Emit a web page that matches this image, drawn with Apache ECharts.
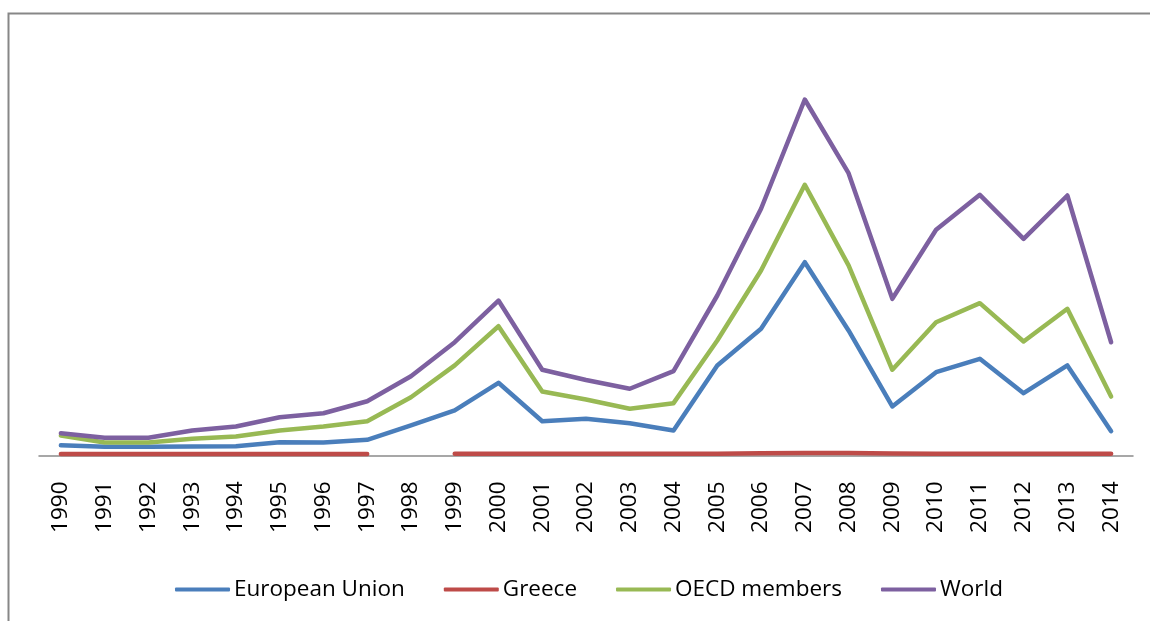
<!DOCTYPE html>
<html>
<head>
<meta charset="utf-8">
<script src="https://cdn.jsdelivr.net/npm/echarts@6/dist/echarts.min.js"></script>
<style>
  html, body { margin: 0; padding: 0; background: #ffffff; }
  #chart { width: 1150px; height: 621px; }
</style>
</head>
<body>
<div id="chart"></div>
<script>
// Foreign direct investment, 1990–2014 (billions of US$)
const years = ['1990','1991','1992','1993','1994','1995','1996','1997','1998','1999',
               '2000','2001','2002','2003','2004','2005','2006','2007','2008','2009',
               '2010','2011','2012','2013','2014'];

const europeanUnion = [90, 76, 76, 79, 81, 116, 114, 137, 263, 394,
                       636, 300, 322, 283, 219, 788, 1109, 1691, 1094, 429,
                       729, 846, 545, 788, 213];

// 1998 has no reported value
const greece = [14, 14, 14, 14, 14, 14, 14, 14, null, 15,
                15, 16, 15, 15, 16, 15, 20, 22, 21, 17,
                15, 15, 16, 16, 15];

const oecdMembers = [175, 114, 114, 146, 166, 219, 254, 300, 510, 788,
                     1131, 560, 490, 409, 458, 1006, 1619, 2369, 1663, 750,
                     1166, 1333, 998, 1284, 516];

const world = [195, 155, 155, 219, 254, 335, 370, 475, 694, 991,
               1356, 750, 661, 584, 738, 1400, 2159, 3115, 2470, 1371,
               1975, 2281, 1896, 2275, 991];

const seriesNames = ['European Union', 'Greece', 'OECD members', 'World'];
const seriesColors = ['#4A7EBB', '#BE4B48', '#98B954', '#7D60A0'];
const seriesData = [europeanUnion, greece, oecdMembers, world];

const chart = echarts.init(document.getElementById('chart'), null, { renderer: 'canvas' });

const FONT = '"Open Sans", "Liberation Sans", sans-serif';

chart.setOption({
  animation: false,
  backgroundColor: '#ffffff',
  graphic: [{
    type: 'rect',
    silent: true,
    shape: { x: 8.5, y: 13.5, width: 1400, height: 900 },
    style: { fill: 'none', stroke: '#878787', lineWidth: 2 }
  }],
  grid: { left: 39, right: 17, top: 55.5, bottom: 165.5, containLabel: false },
  xAxis: {
    type: 'category',
    data: years,
    boundaryGap: true,
    axisLine: { show: true, lineStyle: { color: '#8a8a8a', width: 1.5 } },
    axisTick: { show: false },
    axisLabel: {
      rotate: 90,
      margin: 26,
      interval: 0,
      color: '#000000',
      fontFamily: FONT,
      fontSize: 22.5
    },
    splitLine: { show: false }
  },
  yAxis: {
    type: 'value',
    min: 0,
    max: 3500,
    show: false,
    splitLine: { show: false }
  },
  legend: {
    data: seriesNames,
    left: 175,
    top: 578,
    padding: 0,
    icon: 'roundRect',
    itemWidth: 55,
    itemHeight: 4,
    itemGap: 39,
    textStyle: { color: '#000000', fontFamily: FONT, fontSize: 22.5, padding: [0, 0, 0, -1] }
  },
  series: seriesNames.map((name, i) => ({
    name: name,
    type: 'line',
    data: seriesData[i],
    color: seriesColors[i],
    showSymbol: false,
    symbol: 'none',
    connectNulls: false,
    lineStyle: { width: 4.5, color: seriesColors[i], join: 'round', cap: 'round' },
    z: 2 + i
  }))
});
</script>
</body>
</html>
